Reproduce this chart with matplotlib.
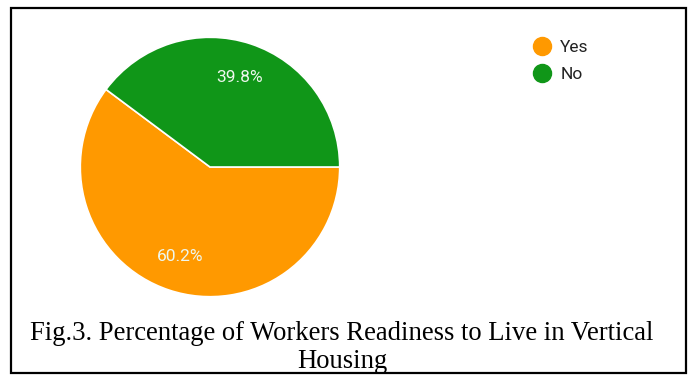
import matplotlib.pyplot as plt
from matplotlib.patches import Rectangle
from matplotlib.lines import Line2D

labels = ['Yes', 'No']
values = [60.2, 39.8]
colors = ['#FF9900', '#109618']
caption_lines = ['Fig.3. Percentage of Workers Readiness to Live in Vertical', 'Housing']

W, H = 692, 376
fig = plt.figure(figsize=(W / 100, H / 100), dpi=100)

# pie axes placed in pixel terms (center ~210,167, radius ~131)
ax = fig.add_axes([79 / W, 1 - 298 / H, 262 / W, 262 / H])
start = 360 * values[1] / 100
wedges, texts, autotexts = ax.pie(values, colors=colors, startangle=start,
                                  autopct='%1.1f%%', pctdistance=0.73,
                                  wedgeprops=dict(edgecolor='white', linewidth=1.2),
                                  textprops=dict(color='#eef7ee', fontsize=12.5,
                                                 family='Roboto'))
ax.set_xlim(-1.01, 1.01)
ax.set_ylim(-1.01, 1.01)
ax.set_aspect('equal')
ax.axis('off')

# legend
handles = [Line2D([], [], marker='o', ls='', markersize=13, color=c) for c in colors]
leg = fig.legend(handles, labels, loc='upper left', bbox_to_anchor=(516 / W, 1 - 24 / H),
                 frameon=False, prop=dict(family='Roboto', size=12.5),
                 handletextpad=0.45, labelspacing=0.7, handlelength=1.2)
for t in leg.get_texts():
    t.set_color('#222222')

# caption, two centred lines
cx = 0.5 * (29 + 655) / W
for line, base in zip(caption_lines, [340, 368]):
    fig.text(cx, 1 - base / H, line, ha='center', va='baseline',
             family='Liberation Serif', fontsize=19.2, color='black')

# frame
fig.patches.append(Rectangle((11 / W, 1 - 373 / H), (686 - 11) / W, (373 - 8) / H,
                             transform=fig.transFigure, fill=False,
                             edgecolor='black', linewidth=1.6))

fig.savefig('out.png', dpi=100)
